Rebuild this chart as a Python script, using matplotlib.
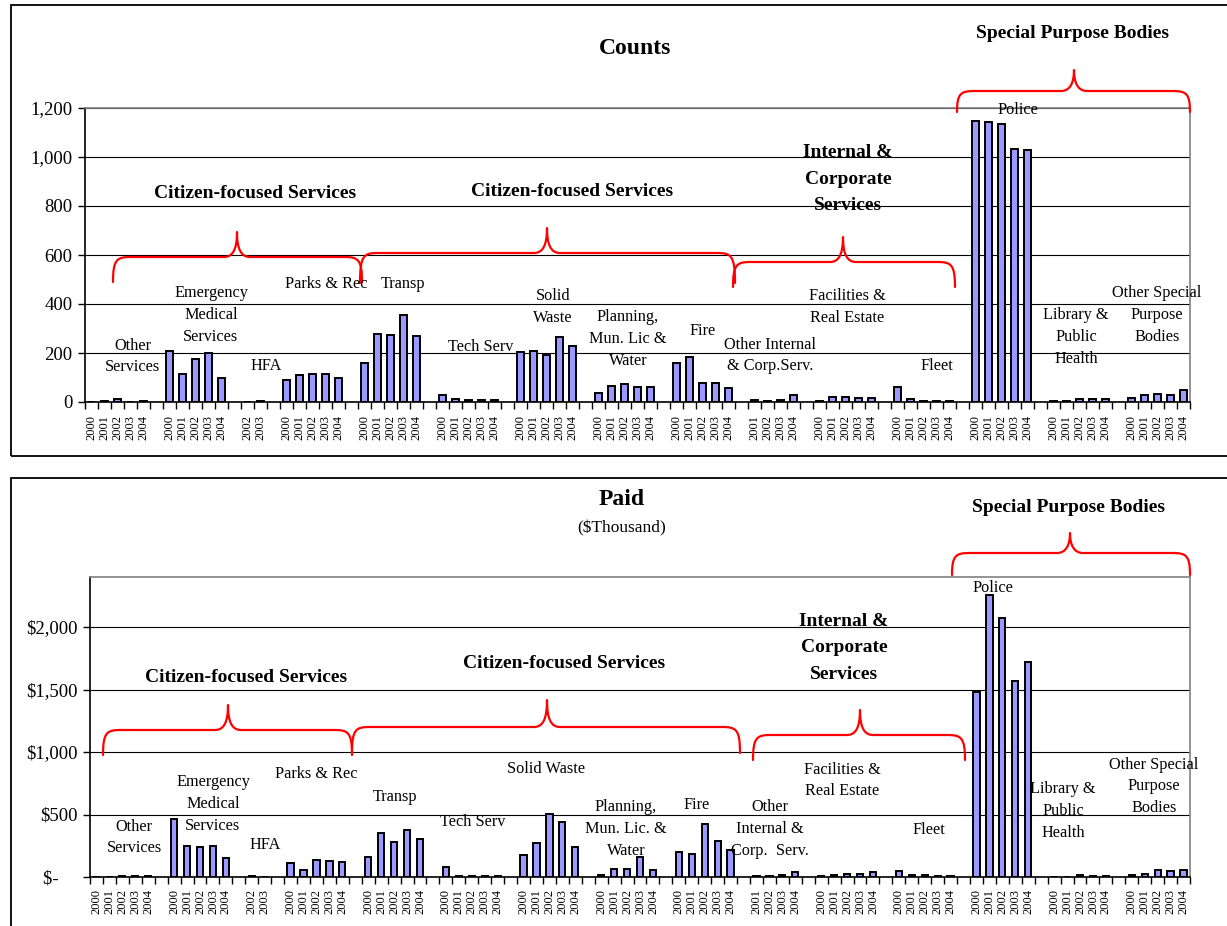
import matplotlib
matplotlib.use("Agg")
import matplotlib.pyplot as plt
from matplotlib.path import Path
from matplotlib.patches import PathPatch, Rectangle
from matplotlib.ticker import FuncFormatter, MultipleLocator, FixedLocator

W, H = 1227, 926
SERIF = "Liberation Serif"

# ---- data -------------------------------------------------------------
groups = [
    "Other Services", "Emergency Medical Services", "HFA", "Parks & Rec",
    "Transp", "Tech Serv", "Solid Waste", "Planning, Mun. Lic & Water",
    "Fire", "Other Internal & Corp. Serv.", "Facilities & Real Estate",
    "Fleet", "Police", "Library & Public Health", "Other Special Purpose Bodies",
]

all_years = ["2000", "2001", "2002", "2003", "2004"]
group_years = [
    all_years, all_years, ["2002", "2003"], all_years, all_years, all_years,
    all_years, all_years, all_years, ["2001", "2002", "2003", "2004"],
    all_years, all_years, all_years, all_years, all_years,
]

# number of claims
counts = [
    [2, 4, 12, 2, 4],
    [208, 114, 177, 199, 99],
    [2, 3],
    [90, 110, 116, 116, 99],
    [161, 279, 275, 355, 269],
    [27, 11, 7, 8, 8],
    [205, 208, 190, 267, 227],
    [37, 64, 72, 63, 63],
    [159, 182, 76, 79, 59],
    [7, 5, 9, 30],
    [4, 20, 22, 16, 18],
    [61, 12, 5, 5, 5],
    [1145, 1143, 1133, 1033, 1028],
    [3, 4, 14, 12, 14],
    [16, 30, 33, 30, 49],
]

# amount paid, $ thousand
paid = [
    [0, 0, 11, 8, 5],
    [465, 250, 237, 247, 149],
    [8, 0],
    [109, 56, 133, 130, 120],
    [162, 354, 277, 375, 306],
    [80, 8, 5, 5, 5],
    [173, 274, 508, 444, 239],
    [13, 64, 64, 160, 53],
    [200, 186, 428, 285, 218],
    [8, 8, 13, 43],
    [5, 13, 24, 24, 37],
    [51, 19, 16, 5, 5],
    [1484, 2259, 2072, 1572, 1719],
    [0, 3, 13, 11, 5],
    [19, 24, 56, 45, 59],
]

# ---- helpers ------------------------------------------------------------
def fx(x):
    return x / W


def fy(y):
    return 1 - y / H


def slot_layout():
    """Category slot per bar, with one empty slot between groups."""
    xs, labels = [], []
    pos = 0
    for gi, yrs in enumerate(group_years):
        row = []
        for y in yrs:
            row.append(pos)
            labels.append((pos, y))
            pos += 1
        xs.append(row)
        if gi < len(group_years) - 1:
            pos += 1
    return xs, labels, pos


def brace(fig, xl, xr, xm, y_end, y_line, y_tip, r_end=18, r_tip=13):
    P = [
        (xl, y_end),
        (xl, y_line + 2), (xl + 4, y_line), (xl + r_end, y_line),
        (xm - r_tip, y_line),
        (xm - 4, y_line), (xm, y_line - 8), (xm, y_tip),
        (xm, y_line - 8), (xm + 4, y_line), (xm + r_tip, y_line),
        (xr - r_end, y_line),
        (xr - 4, y_line), (xr, y_line + 2), (xr, y_end),
    ]
    codes = [Path.MOVETO,
             Path.CURVE4, Path.CURVE4, Path.CURVE4,
             Path.LINETO,
             Path.CURVE4, Path.CURVE4, Path.CURVE4,
             Path.CURVE4, Path.CURVE4, Path.CURVE4,
             Path.LINETO,
             Path.CURVE4, Path.CURVE4, Path.CURVE4]
    verts = [(fx(a), fy(b)) for a, b in P]
    fig.add_artist(PathPatch(Path(verts, codes), transform=fig.transFigure,
                             fill=False, edgecolor="#ff0000", lw=1.6,
                             capstyle="round", joinstyle="round"))


def label(fig, x, y, s, size=11.7, weight="normal", ls=1.47):
    fig.text(fx(x), fy(y), s, ha="center", va="center", fontsize=size,
             fontweight=weight, family=SERIF, linespacing=ls,
             multialignment="center")


def bar_axes(fig, rect, values, ymax, step, fmt):
    xs, labels, n = slot_layout()
    ax = fig.add_axes(rect)
    for row, vals in zip(xs, values):
        ax.bar(row, vals, width=0.48, color="#9999ff", edgecolor="black",
               linewidth=1.4, zorder=3)
    ax.set_xlim(-0.5, n - 0.5)
    ax.set_ylim(0, ymax)
    ax.yaxis.set_major_locator(MultipleLocator(step))
    ax.yaxis.set_major_formatter(FuncFormatter(fmt))
    ax.grid(axis="y", color="black", lw=0.8, zorder=1)
    ax.set_xticks([p for p, _ in labels])
    ax.set_xticklabels([t for _, t in labels], rotation=90, fontsize=9,
                       family=SERIF)
    ax.xaxis.set_minor_locator(FixedLocator([i - 0.5 for i in range(n + 1)]))
    ax.tick_params(axis="x", which="major", length=0, pad=9)
    ax.tick_params(axis="x", which="minor", length=5, width=1, direction="out")
    ax.tick_params(axis="y", length=5, width=1, direction="out", pad=4)
    for t in ax.get_yticklabels():
        t.set_family(SERIF)
        t.set_fontsize(13.5)
    for s in ("top", "right"):
        ax.spines[s].set_color("#808080")
        ax.spines[s].set_linewidth(1.2)
    for s in ("left", "bottom"):
        ax.spines[s].set_color("black")
        ax.spines[s].set_linewidth(1.2)
    ax.spines["bottom"].set_zorder(4)
    return ax


def money(v, p):
    # accounting style: zero shown as a dash, padded like the other amounts
    if v == 0:
        return "$-" + "\u00a0" * 4
    return f"${v:,.0f}"


# ---- figure ---------------------------------------------------------------
fig = plt.figure(figsize=(W / 100, H / 100), dpi=100)
fig.patch.set_facecolor("white")

# panel frames
fig.add_artist(Rectangle((fx(11), fy(456)), fx(1240) - fx(11), fy(5) - fy(456),
                         transform=fig.transFigure, fill=False,
                         edgecolor="black", lw=1.3))
fig.add_artist(Rectangle((fx(11), fy(945)), fx(1240) - fx(11), fy(478) - fy(945),
                         transform=fig.transFigure, fill=False,
                         edgecolor="black", lw=1.3))

# Counts panel
bar_axes(fig, [fx(85), fy(402), fx(1190) - fx(85), fy(108) - fy(402)],
         counts, 1200, 200, lambda v, p: f"{v:,.0f}")

label(fig, 635, 48, "Counts", size=17, weight="bold")
label(fig, 255, 193, "Citizen-focused Services", size=14, weight="bold")
label(fig, 572, 192, "Citizen-focused Services", size=14, weight="bold")
label(fig, 848, 179, "Internal &\nCorporate\nServices", size=14, weight="bold", ls=1.7)
label(fig, 1072, 33, "Special Purpose Bodies", size=14, weight="bold")

brace(fig, 113, 362, 237, 282, 257, 232)
brace(fig, 360, 735, 547, 283, 253, 228)
brace(fig, 733, 955, 843, 287, 262, 237)
brace(fig, 957, 1190, 1074, 112, 91, 70)

top_labels = [
    (133, 356.5, "Other\nServices"),
    (211, 315, "Emergency\nMedical\nServices"),
    (266, 366, "HFA"),
    (326, 284, "Parks & Rec"),
    (403, 284, "Transp"),
    (481, 347, "Tech Serv"),
    (553, 307, "Solid\nWaste"),
    (628, 339, "Planning,\nMun. Lic &\nWater"),
    (703, 331, "Fire"),
    (770, 355.5, "Other Internal\n& Corp.Serv."),
    (847, 307, "Facilities &\nReal Estate"),
    (937, 366, "Fleet"),
    (1018, 110, "Police"),
    (1076, 337, "Library &\nPublic\nHealth"),
    (1157, 315, "Other Special\nPurpose\nBodies"),
]
for x, y, s in top_labels:
    label(fig, x, y, s)

# Paid panel
bar_axes(fig, [fx(90), fy(877), fx(1190) - fx(90), fy(577) - fy(877)],
         paid, 2400, 500, money)

label(fig, 622, 500, "Paid", size=17, weight="bold")
label(fig, 622, 528, "($Thousand)", size=12.5)
label(fig, 246, 678, "Citizen-focused Services", size=14, weight="bold")
label(fig, 564, 664, "Citizen-focused Services", size=14, weight="bold")
label(fig, 844, 648, "Internal &\nCorporate\nServices", size=14, weight="bold", ls=1.7)
label(fig, 1069, 507, "Special Purpose Bodies", size=14, weight="bold")

brace(fig, 103, 352, 228, 755, 730, 705)
brace(fig, 352, 740, 547, 753, 727, 700)
brace(fig, 753, 965, 860, 760, 735, 710)
brace(fig, 952, 1190, 1070, 575, 553, 533)

bottom_labels = [
    (134, 837.5, "Other\nServices"),
    (213, 804, "Emergency\nMedical\nServices"),
    (265, 845, "HFA"),
    (316, 774, "Parks & Rec"),
    (395, 797, "Transp"),
    (473, 822, "Tech Serv"),
    (546, 769, "Solid Waste"),
    (626, 829, "Planning,\nMun. Lic. &\nWater"),
    (697, 805, "Fire"),
    (770, 829, "Other\nInternal &\nCorp.  Serv."),
    (842, 780.5, "Facilities &\nReal Estate"),
    (929, 830, "Fleet"),
    (993, 588, "Police"),
    (1063, 811, "Library &\nPublic\nHealth"),
    (1154, 786.5, "Other Special\nPurpose\nBodies"),
]
for x, y, s in bottom_labels:
    label(fig, x, y, s)

fig.savefig("out.png", dpi=100, facecolor="white")
